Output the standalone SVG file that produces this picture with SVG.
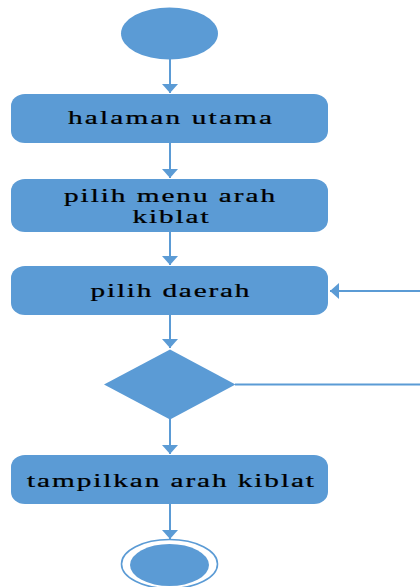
<svg xmlns="http://www.w3.org/2000/svg" width="420" height="587" viewBox="0 0 420 587">
<style>
.shape{fill:#5B9BD5;}
.lbl{font-family:"Liberation Serif","Times New Roman",serif;font-size:19.5px;fill:#000000;text-anchor:middle;stroke:#000000;stroke-width:0.25;}
.edge{stroke:#5B9BD5;stroke-width:2;fill:none;}
</style>
<defs>
<marker id="arr" viewBox="0 0 9 16" refX="9" refY="8" markerWidth="9" markerHeight="16" orient="auto" markerUnits="userSpaceOnUse">
<path d="M0,0 L9,8 L0,16 z" fill="#5B9BD5"/>
</marker>
</defs>
<rect width="420" height="587" fill="#ffffff"/>
<g id="start">
<ellipse class="shape" cx="169.5" cy="33.5" rx="48.5" ry="26"/>
</g>
<g id="halaman-utama">
<rect class="shape" x="11" y="94" width="317" height="49" rx="14" ry="12"/>
<text class="lbl" transform="translate(170 124) scale(1.5 1)" textLength="136" lengthAdjust="spacing">halaman utama</text>
</g>
<g id="pilih-menu">
<rect class="shape" x="11" y="179" width="317" height="53" rx="14" ry="12"/>
<text class="lbl" transform="translate(169.5 201.5) scale(1.5 1)" textLength="140.7" lengthAdjust="spacing">pilih menu arah</text>
<text class="lbl" transform="translate(170.5 222.5) scale(1.5 1)" textLength="50.7" lengthAdjust="spacing">kiblat</text>
</g>
<g id="pilih-daerah">
<rect class="shape" x="11" y="266" width="317" height="49" rx="14" ry="12"/>
<text class="lbl" transform="translate(170 296.5) scale(1.5 1)" textLength="106" lengthAdjust="spacing">pilih daerah</text>
</g>
<g id="decision">
<polygon class="shape" points="170,349.5 235.5,384.5 170,419.5 104,384.5"/>
</g>
<g id="tampilkan">
<rect class="shape" x="11" y="455" width="317" height="49" rx="14" ry="12"/>
<text class="lbl" transform="translate(170.5 486.5) scale(1.5 1)" textLength="191.3" lengthAdjust="spacing">tampilkan arah kiblat</text>
</g>
<g id="end">
<ellipse cx="169.5" cy="564" rx="48" ry="24.5" fill="none" stroke="#5B9BD5" stroke-width="1.6"/>
<ellipse class="shape" cx="169.5" cy="565" rx="39.5" ry="21"/>
</g>
<g id="connectors">
<line class="edge" x1="170" y1="59" x2="170" y2="93" marker-end="url(#arr)"/>
<line class="edge" x1="170" y1="143" x2="170" y2="178" marker-end="url(#arr)"/>
<line class="edge" x1="170" y1="232" x2="170" y2="265" marker-end="url(#arr)"/>
<line class="edge" x1="170" y1="315" x2="170" y2="348" marker-end="url(#arr)"/>
<line class="edge" x1="170" y1="419" x2="170" y2="454" marker-end="url(#arr)"/>
<line class="edge" x1="170" y1="504" x2="170" y2="539" marker-end="url(#arr)"/>
<line class="edge" x1="420" y1="291" x2="330" y2="291" marker-end="url(#arr)"/>
<line class="edge" x1="235" y1="384.5" x2="420" y2="384.5" stroke-width="1.5"/>
</g>
</svg>
